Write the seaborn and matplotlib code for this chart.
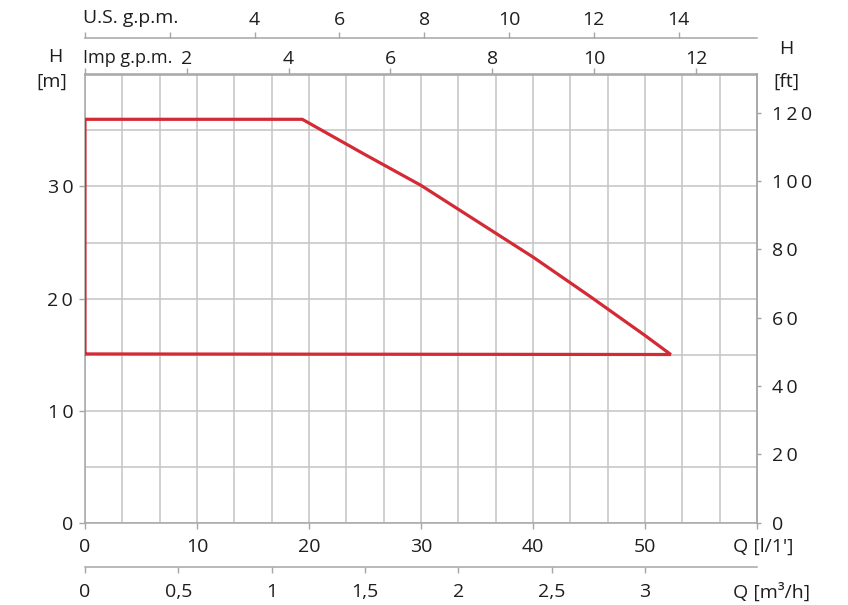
"""
Pump operating range chart: H [m] against Q [l/min], with extra flow and head scales.
Run: python3 plot.py  -> out.png
"""
import matplotlib
matplotlib.use("Agg")
import matplotlib.pyplot as plt
import numpy as np
import pandas as pd
import seaborn as sns

# operating envelope (closed outline)
q_lpm = [0, 0, 19.4, 25, 30, 35, 40, 45, 50, 52.3, 0]
h_m = [15.05, 36, 36, 32.85, 30.1, 26.9, 23.7, 20.25, 16.7, 15.0, 15.05]

# axis ticks
q_ticks = [0, 10, 20, 30, 40, 50, 60]
q_labels = ["0", "10", "20", "30", "40", "50", ""]
h_ticks = [0, 10, 20, 30]
ft_ticks = [0, 20, 40, 60, 80, 100, 120]
m3h_ticks = [0, 0.5, 1, 1.5, 2, 2.5, 3]
m3h_labels = ["0", "0,5", "1", "1,5", "2", "2,5", "3"]
us_ticks = [0, 2, 4, 6, 8, 10, 12, 14]
us_labels = ["", "", "4", "6", "8", "10", "12", "14"]
imp_ticks = [0, 2, 4, 6, 8, 10, 12]
imp_labels = ["", "2", "4", "6", "8", "10", "12"]

RED = "#d42a35"
GRID = "#c4c4c4"
SPINE = "#a6a6a6"
INK = "#1e1e1e"
FS = 14
W, H = 848, 605


def spaced(v):
    # the reference sets head numbers with wide tracking
    return "\u2009".join(str(v))


sns.set_theme(style="white")
plt.rcParams["font.family"] = ["Open Sans", "DejaVu Sans"]
plt.rcParams["text.color"] = INK

fig = plt.figure(figsize=(W / 100, H / 100), dpi=100)
ax = fig.add_axes([85 / W, (H - 522.5) / H, 672 / W, 448 / H])

df = pd.DataFrame({"q": q_lpm, "h": h_m})
sns.lineplot(data=df, x="q", y="h", sort=False, estimator=None, color=RED,
             lw=2.3, ax=ax, zorder=5, solid_joinstyle="miter")

ax.set_xlim(0, 60)
ax.set_ylim(0, 40)
ax.set_xlabel("")
ax.set_ylabel("")

# grid: every 0.2 m3/h vertically, every 5 m horizontally
ax.set_xticks(np.arange(0, 60.01, 10 / 3), minor=True)
ax.set_yticks(np.arange(0, 40.01, 5), minor=True)
ax.set_xticks(q_ticks)
ax.set_xticklabels(q_labels)
ax.set_yticks(h_ticks)
ax.set_yticklabels([spaced(v) for v in h_ticks])
ax.grid(which="both", color=GRID, lw=1.1)
ax.set_axisbelow(True)
ax.tick_params(which="minor", length=0)
ax.tick_params(axis="x", which="major", direction="out", length=4, width=1,
               color=SPINE, labelsize=FS, labelcolor=INK, pad=7.5, bottom=True)
ax.tick_params(axis="y", which="major", direction="out", length=4.5, width=1,
               color=SPINE, labelsize=FS, labelcolor=INK, pad=4, left=True)
for s in ax.spines.values():
    s.set_color(SPINE)
    s.set_linewidth(1.1)


def style_sec(sec, axis, length, pad):
    sec.tick_params(axis=axis, direction="out", length=length, width=1,
                    color=SPINE, labelsize=FS, labelcolor=INK, pad=pad)
    for s in sec.spines.values():
        s.set_color(SPINE)
        s.set_linewidth(1.1)


# Imp g.p.m. on the top of the plot box
imp = ax.secondary_xaxis("top", functions=(lambda q: q / 4.54609, lambda g: g * 4.54609))
imp.set_xticks(imp_ticks)
imp.set_xticklabels(imp_labels)
style_sec(imp, "x", 4.5, 0)

# U.S. g.p.m. above it
us = ax.secondary_xaxis((522.5 - 37.7) / 448, functions=(lambda q: q / 3.78541, lambda g: g * 3.78541))
us.set_xticks(us_ticks)
us.set_xticklabels(us_labels)
style_sec(us, "x", 4.5, 2)

# m3/h below
m3h = ax.secondary_xaxis(-(566.7 - 522.5) / 448, functions=(lambda q: q * 0.06, lambda m: m / 0.06))
m3h.set_xticks(m3h_ticks)
m3h.set_xticklabels(m3h_labels)
style_sec(m3h, "x", 4.5, 7.5)

# head in feet on the right
ft = ax.secondary_yaxis("right", functions=(lambda h: h / 0.3048, lambda f: f * 0.3048))
ft.set_yticks(ft_ticks)
ft.set_yticklabels([spaced(v) for v in ft_ticks])
style_sec(ft, "y", 3, 8)


def label(x, y, s, ha="center", size=FS):
    fig.text(x / W, 1 - y / H, s, ha=ha, va="center", fontsize=size, color=INK)


label(83, 18, "U.S. g.p.m.", ha="left")
label(83, 58, "Imp g.p.m.", ha="left", size=13)
label(55.5, 57.5, "H")
label(52, 82, "[m]")
label(786, 49, "H")
label(786, 82, "[ft]")
label(733, 547, "Q [l/1']", ha="left")
label(733, 592, "Q [m\u00b3/h]", ha="left")

fig.savefig("out.png", dpi=100)
